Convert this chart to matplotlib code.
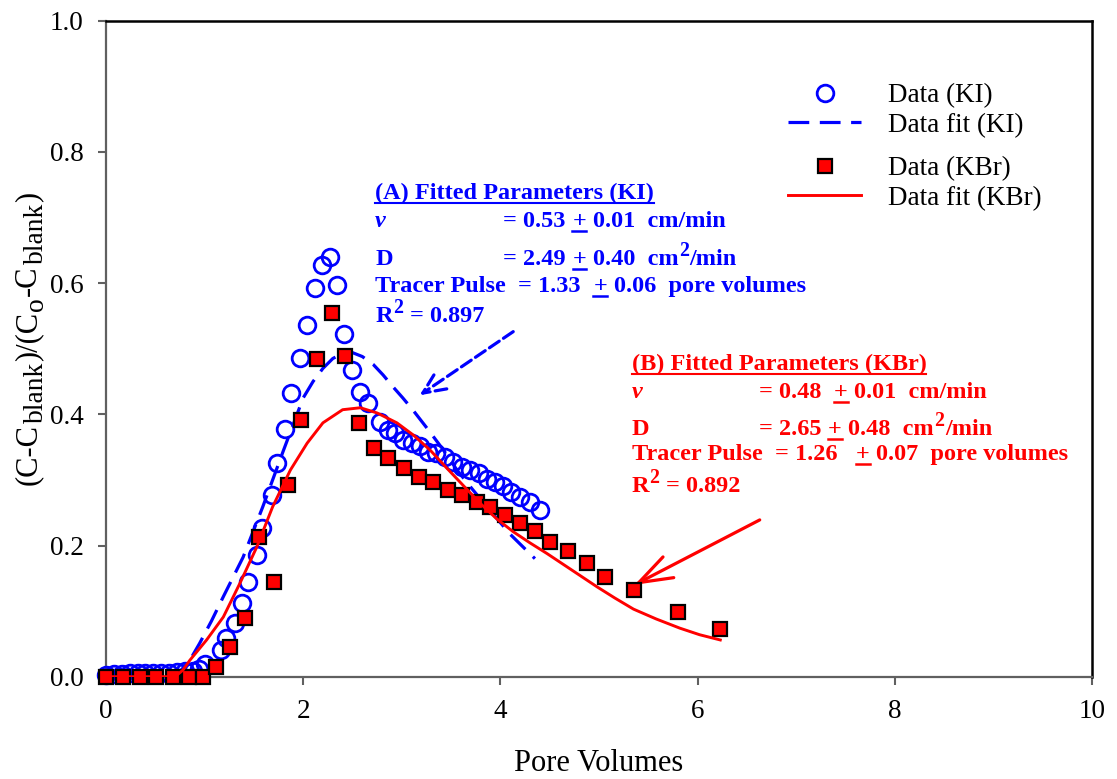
import matplotlib
matplotlib.use("Agg")
import matplotlib.pyplot as plt
from matplotlib.lines import Line2D
from matplotlib.transforms import IdentityTransform

plt.rcParams["font.family"] = ["Liberation Serif", "DejaVu Serif"]

# ---- data ------------------------------------------------------------------
ki_pv = [0.0, 0.08, 0.16, 0.24, 0.32, 0.40, 0.48, 0.56, 0.64, 0.72, 0.80, 0.88,
         0.94, 1.00, 1.17, 1.22, 1.31, 1.38, 1.44, 1.53, 1.58, 1.68, 1.73, 1.82,
         1.88, 1.97, 2.04, 2.12, 2.19, 2.27, 2.34, 2.41, 2.49, 2.58, 2.66, 2.78,
         2.86, 2.93, 3.01, 3.10, 3.18, 3.27, 3.35, 3.44, 3.52, 3.61, 3.69, 3.78,
         3.86, 3.95, 4.03, 4.11, 4.20, 4.30, 4.40]
ki_c = [0.003, 0.004, 0.004, 0.005, 0.005, 0.005, 0.006, 0.006, 0.006, 0.007, 0.008, 0.009,
        0.012, 0.020, 0.041, 0.059, 0.082, 0.112, 0.145, 0.186, 0.227, 0.277, 0.326, 0.378,
        0.432, 0.486, 0.536, 0.592, 0.628, 0.640, 0.597, 0.523, 0.468, 0.434, 0.417, 0.389,
        0.376, 0.371, 0.361, 0.356, 0.351, 0.343, 0.341, 0.335, 0.328, 0.320, 0.315, 0.310,
        0.302, 0.297, 0.290, 0.282, 0.274, 0.267, 0.254]

kbr_pv = [0.0, 0.17, 0.34, 0.51, 0.68, 0.84, 0.98, 1.12, 1.26, 1.41, 1.55, 1.70,
          1.85, 1.98, 2.14, 2.29, 2.42, 2.57, 2.72, 2.86, 3.02, 3.17, 3.32, 3.47,
          3.61, 3.76, 3.89, 4.05, 4.20, 4.35, 4.50, 4.69, 4.88, 5.06, 5.36, 5.80, 6.23]
kbr_c = [0.0, 0.0, 0.0, 0.0, 0.0, 0.0, 0.0, 0.015, 0.046, 0.089, 0.213, 0.144,
         0.292, 0.391, 0.485, 0.554, 0.489, 0.386, 0.348, 0.333, 0.318, 0.305, 0.297, 0.285,
         0.277, 0.267, 0.259, 0.247, 0.234, 0.222, 0.206, 0.191, 0.173, 0.152, 0.132, 0.099, 0.073]

ki_fit_pv = [0.0, 0.75, 0.85, 0.95, 1.07, 1.19, 1.39, 1.59, 1.80, 2.00, 2.10, 2.20,
             2.30, 2.40, 2.50, 2.60, 2.71, 2.81, 2.91, 3.01, 3.11, 3.26, 3.42, 3.56,
             3.72, 3.92, 4.10, 4.35]
ki_fit_c = [0.005, 0.008, 0.025, 0.051, 0.085, 0.122, 0.182, 0.259, 0.345, 0.425, 0.450, 0.470,
            0.485, 0.493, 0.494, 0.488, 0.476, 0.460, 0.442, 0.425, 0.407, 0.378, 0.346, 0.315,
            0.285, 0.249, 0.217, 0.180]

kbr_fit_pv = [0.0, 0.70, 0.78, 0.85, 1.02, 1.19, 1.36, 1.53, 1.69, 1.87, 2.04, 2.20,
              2.40, 2.58, 2.75, 2.95, 3.12, 3.29, 3.45, 3.62, 3.79, 3.96, 4.13, 4.30,
              4.47, 4.64, 4.81, 4.98, 5.16, 5.35, 5.58, 5.82, 6.02, 6.23]
kbr_fit_c = [0.0, 0.0, 0.010, 0.025, 0.056, 0.091, 0.143, 0.198, 0.259, 0.315, 0.356, 0.387,
             0.407, 0.410, 0.402, 0.387, 0.368, 0.345, 0.319, 0.292, 0.265, 0.241, 0.221, 0.204,
             0.188, 0.171, 0.154, 0.137, 0.120, 0.103, 0.088, 0.074, 0.064, 0.056]

x_ticks = [0, 2, 4, 6, 8, 10]
y_ticks = [0.0, 0.2, 0.4, 0.6, 0.8, 1.0]

BLUE = "#0000ff"
RED = "#ff0000"
GREY = "#606060"

W, H = 1117, 779
fig = plt.figure(figsize=(W / 100, H / 100), dpi=100)
ax = fig.add_axes([106 / W, 1 - 676.7 / H, (1092 - 106) / W, (676.7 - 20.7) / H])

h1, = ax.plot(ki_pv, ki_c, "o", mfc="none", mec=BLUE, mew=2, ms=12,
              label="Data (KI)", zorder=3, clip_on=False)
h2, = ax.plot(ki_fit_pv, ki_fit_c, "--", color=BLUE, lw=2.3, dashes=(6.5, 3.3),
              label="Data fit (KI)", zorder=4)
h3, = ax.plot(kbr_pv, kbr_c, "s", mfc=RED, mec="black", mew=1.6, ms=10.5,
              label="Data (KBr)", zorder=5, clip_on=False)
h4, = ax.plot(kbr_fit_pv, kbr_fit_c, "-", color=RED, lw=2.1,
              label="Data fit (KBr)", zorder=6)

ax.set_xlim(0, 10)
ax.set_ylim(0, 1)
ax.set_xticks(x_ticks)
ax.set_xticklabels([str(t) for t in x_ticks])
ax.set_yticks(y_ticks)
ax.set_yticklabels([f"{t:.1f}" for t in y_ticks])

for side in ("left", "bottom"):
    ax.spines[side].set_color(GREY)
    ax.spines[side].set_linewidth(1.6)
for side in ("top", "right"):
    ax.spines[side].set_color("black")
    ax.spines[side].set_linewidth(1.8)
ax.tick_params(direction="out", length=6, width=1.5, color=GREY, labelsize=19.5)
ax.tick_params(axis="x", pad=10)
ax.tick_params(axis="y", pad=10)

ax.set_xlabel("Pore Volumes", fontsize=22, labelpad=18)

# legend, split in two groups like the original
leg_kw = dict(frameon=False, fontsize=19.5, handlelength=2.7, handletextpad=1.0,
              borderpad=0, borderaxespad=0, labelspacing=0.18, loc="upper left",
              bbox_transform=fig.transFigure)
leg1 = ax.legend(handles=[h1, h2], bbox_to_anchor=(788 / W, 1 - 83 / H), **leg_kw)
ax.add_artist(leg1)
ax.legend(handles=[h3, h4], bbox_to_anchor=(788 / W, 1 - 156 / H), **leg_kw)

# arrows pointing at the curves
ax.annotate("", xy=(3.18, 0.429), xytext=(4.13, 0.526),
            arrowprops=dict(arrowstyle="->,head_length=1.0,head_width=0.45",
                            color=BLUE, lw=2.3, ls="--", shrinkA=0, shrinkB=0,
                            mutation_scale=16))
ax.annotate("", xy=(5.36, 0.140), xytext=(6.63, 0.239),
            arrowprops=dict(arrowstyle="->,head_length=1.0,head_width=0.35",
                            color=RED, lw=2.3, shrinkA=0, shrinkB=0,
                            mutation_scale=24))

renderer = fig.canvas.get_renderer()

# ---- y label: subscripts nearly full size, as in the original --------------
YL_FS = 22
ylabel_parts = [("(C-C", False), ("blank", True), (")/(C", False), ("o", True),
                ("-C", False), ("blank", True), (")", False)]


def ylabel_run(x_base, y_center):
    arts = []
    for s, sub in ylabel_parts:
        t = fig.text(0, 0, s, transform=IdentityTransform(), rotation=90,
                     rotation_mode="anchor", ha="left", va="baseline",
                     fontsize=YL_FS * (0.9 if sub else 1.0))
        arts.append((t, sub))
    total = sum(t.get_window_extent(renderer).height for t, _ in arts) + len(arts)
    cur = y_center - total / 2
    for t, sub in arts:
        t.set_position((x_base + (7 if sub else 0), cur))
        cur += t.get_window_extent(renderer).height + 1


ylabel_run(36, H - 338)

# ---- fitted parameter boxes, written piece by piece on a baseline ----------
FS = 17.5


def text_width(s, size=FS):
    probe = fig.text(0, 0, s, fontsize=size, fontweight="bold")
    w = probe.get_window_extent(renderer).width
    probe.remove()
    return w


SPACE = text_width("x x") - text_width("xx")


def write_run(x, y, pieces, color):
    # pieces: (number of leading spaces, text, kind)
    cur, base = ax.transData.transform((x, y))
    for nsp, s, kind in pieces:
        cur += nsp * SPACE
        size, rise, style = FS, 0, "normal"
        if kind == "sup":
            size, rise = FS * 0.82, 9
        elif kind == "it":
            style = "italic"
        t = fig.text(cur, base + rise, s, transform=IdentityTransform(), color=color,
                     fontsize=size, fontweight="bold", fontstyle=style,
                     ha="left", va="baseline")
        bb = t.get_window_extent(renderer)
        if kind in ("ul", "pm"):
            # headings are underlined, and so is the "+" that stands for plus/minus
            fig.add_artist(Line2D([bb.x0, bb.x1], [base - 4, base - 4], color=color,
                                  lw=1.5 if kind == "ul" else 1.8,
                                  transform=IdentityTransform()))
        cur = bb.x1 + 0.5


write_run(2.73, 0.728, [(0, "(A) Fitted Parameters (KI)", "ul")], BLUE)
write_run(2.73, 0.686, [(0, "v", "it")], BLUE)
write_run(4.03, 0.686, [(0, "= 0.53", ""), (1, "+", "pm"), (1, "0.01  cm/min", "")], BLUE)
write_run(2.73, 0.628, [(0, "D", "")], BLUE)
write_run(4.03, 0.628, [(0, "= 2.49", ""), (1, "+", "pm"), (1, "0.40  cm", ""),
                        (0, "2", "sup"), (0, "/min", "")], BLUE)
write_run(2.73, 0.587, [(0, "Tracer Pulse  = 1.33", ""), (2, "+", "pm"),
                        (1, "0.06  pore volumes", "")], BLUE)
write_run(2.73, 0.541, [(0, "R", ""), (0, "2", "sup"), (1, "= 0.897", "")], BLUE)

write_run(5.33, 0.468, [(0, "(B) Fitted Parameters (KBr)", "ul")], RED)
write_run(5.33, 0.425, [(0, "v", "it")], RED)
write_run(6.62, 0.425, [(0, "= 0.48", ""), (2, "+", "pm"), (1, "0.01  cm/min", "")], RED)
write_run(5.33, 0.368, [(0, "D", "")], RED)
write_run(6.62, 0.368, [(0, "= 2.65", ""), (1, "+", "pm"), (1, "0.48  cm", ""),
                        (0, "2", "sup"), (0, "/min", "")], RED)
write_run(5.33, 0.330, [(0, "Tracer Pulse  = 1.26", ""), (3, "+", "pm"),
                        (1, "0.07  pore volumes", "")], RED)
write_run(5.33, 0.282, [(0, "R", ""), (0, "2", "sup"), (1, "= 0.892", "")], RED)

fig.savefig("out.png", dpi=100)
